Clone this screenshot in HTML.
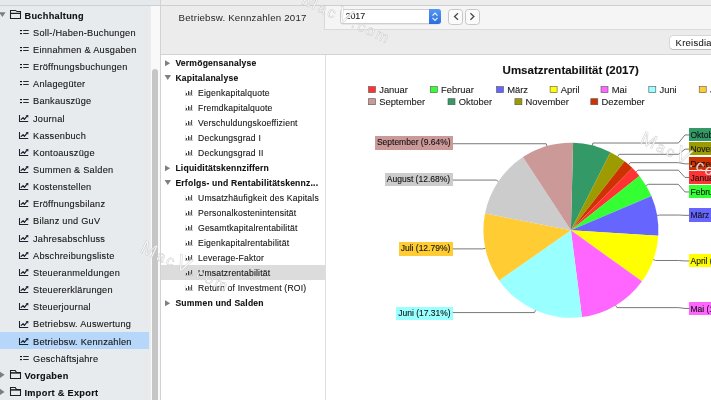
<!DOCTYPE html>
<html><head><meta charset="utf-8"><style>
*{margin:0;padding:0;box-sizing:border-box}
html,body{width:711px;height:400px;overflow:hidden;background:#fff;font-family:"Liberation Sans",sans-serif;}
.a{position:absolute}
.t{position:absolute;white-space:nowrap;line-height:normal;-webkit-text-stroke:0.1px currentColor}
svg{position:absolute;left:0;top:0}
</style></head><body><div id="root" style="position:absolute;left:0;top:0;width:711px;height:400px;will-change:transform">
<div class="a" style="left:0;top:0;width:711px;height:5px;background:#ececec"></div>
<div class="a" style="left:0;top:0;width:160px;height:5px;background:#e5e9ec"></div>
<div class="a" style="left:0;top:5px;width:711px;height:1px;background:#cfcfcf"></div>
<div class="a" style="left:0;top:6px;width:150px;height:394px;background:#e8ebee"></div>
<div class="a" style="left:150px;top:6px;width:10px;height:394px;background:#f9f9f9;border-left:1px solid #eeeeee"></div>
<div class="a" style="left:152.2px;top:69px;width:5.8px;height:340px;background:#c6c6c6;border-radius:3px"></div>
<div class="a" style="left:160px;top:0;width:1px;height:400px;background:#d2d2d2"></div>
<div class="a" style="left:161px;top:6px;width:550px;height:48px;background:#ececec"></div>
<div class="a" style="left:161px;top:54px;width:550px;height:1px;background:#d3d3d3"></div>
<div class="a" style="left:324px;top:6px;width:387px;height:24px;background:#f5f5f5;border-left:1px solid #d9d9d9;border-bottom:1px solid #dadada"></div>
<div class="a" style="left:161px;top:55px;width:165px;height:345px;background:#fff;border-right:1px solid #dedede"></div>
<div class="t" style="left:24.5px;top:10.68px;font-size:9.2px;font-weight:bold;letter-spacing:0.3px;color:#101010">Buchhaltung</div>
<div class="t" style="left:33px;top:27.83px;font-size:9.2px;letter-spacing:0.25px;color:#141414">Soll-/Haben-Buchungen</div>
<div class="t" style="left:33px;top:44.98px;font-size:9.2px;letter-spacing:0.25px;color:#141414">Einnahmen &amp; Ausgaben</div>
<div class="t" style="left:33px;top:62.13px;font-size:9.2px;letter-spacing:0.25px;color:#141414">Eröffnungsbuchungen</div>
<div class="t" style="left:33px;top:79.28px;font-size:9.2px;letter-spacing:0.25px;color:#141414">Anlagegüter</div>
<div class="t" style="left:33px;top:96.43px;font-size:9.2px;letter-spacing:0.25px;color:#141414">Bankauszüge</div>
<div class="t" style="left:33px;top:113.58px;font-size:9.2px;letter-spacing:0.25px;color:#141414">Journal</div>
<div class="t" style="left:33px;top:130.73px;font-size:9.2px;letter-spacing:0.25px;color:#141414">Kassenbuch</div>
<div class="t" style="left:33px;top:147.88px;font-size:9.2px;letter-spacing:0.25px;color:#141414">Kontoauszüge</div>
<div class="t" style="left:33px;top:165.03px;font-size:9.2px;letter-spacing:0.25px;color:#141414">Summen &amp; Salden</div>
<div class="t" style="left:33px;top:182.18px;font-size:9.2px;letter-spacing:0.25px;color:#141414">Kostenstellen</div>
<div class="t" style="left:33px;top:199.33px;font-size:9.2px;letter-spacing:0.25px;color:#141414">Eröffnungsbilanz</div>
<div class="t" style="left:33px;top:216.48px;font-size:9.2px;letter-spacing:0.25px;color:#141414">Bilanz und GuV</div>
<div class="t" style="left:33px;top:233.63px;font-size:9.2px;letter-spacing:0.25px;color:#141414">Jahresabschluss</div>
<div class="t" style="left:33px;top:250.78px;font-size:9.2px;letter-spacing:0.25px;color:#141414">Abschreibungsliste</div>
<div class="t" style="left:33px;top:267.93px;font-size:9.2px;letter-spacing:0.25px;color:#141414">Steueranmeldungen</div>
<div class="t" style="left:33px;top:285.08px;font-size:9.2px;letter-spacing:0.25px;color:#141414">Steuererklärungen</div>
<div class="t" style="left:33px;top:302.23px;font-size:9.2px;letter-spacing:0.25px;color:#141414">Steuerjournal</div>
<div class="t" style="left:33px;top:319.38px;font-size:9.2px;letter-spacing:0.25px;color:#141414">Betriebsw. Auswertung</div>
<div class="a" style="left:0;top:332.20px;width:149px;height:16.75px;background:#b6d6fa"></div>
<div class="t" style="left:33px;top:336.53px;font-size:9.2px;letter-spacing:0.25px;color:#141414">Betriebsw. Kennzahlen</div>
<div class="t" style="left:33px;top:353.68px;font-size:9.2px;letter-spacing:0.25px;color:#141414">Geschäftsjahre</div>
<div class="t" style="left:24.5px;top:370.83px;font-size:9.2px;font-weight:bold;letter-spacing:0.3px;color:#101010">Vorgaben</div>
<div class="t" style="left:24.5px;top:387.98px;font-size:9.2px;font-weight:bold;letter-spacing:0.3px;color:#101010">Import &amp; Export</div>
<div class="t" style="left:175.4px;top:58.18px;font-size:8.6px;font-weight:bold;letter-spacing:0.2px;color:#101010">Vermögensanalyse</div>
<div class="t" style="left:175.4px;top:73.18px;font-size:8.6px;font-weight:bold;letter-spacing:0.2px;color:#101010">Kapitalanalyse</div>
<div class="t" style="left:198px;top:88.18px;font-size:8.6px;letter-spacing:0.2px;color:#141414">Eigenkapitalquote</div>
<div class="t" style="left:198px;top:103.18px;font-size:8.6px;letter-spacing:0.2px;color:#141414">Fremdkapitalquote</div>
<div class="t" style="left:198px;top:118.18px;font-size:8.6px;letter-spacing:0.2px;color:#141414">Verschuldungskoeffizient</div>
<div class="t" style="left:198px;top:133.18px;font-size:8.6px;letter-spacing:0.2px;color:#141414">Deckungsgrad I</div>
<div class="t" style="left:198px;top:148.18px;font-size:8.6px;letter-spacing:0.2px;color:#141414">Deckungsgrad II</div>
<div class="t" style="left:175.4px;top:163.18px;font-size:8.6px;font-weight:bold;letter-spacing:0.2px;color:#101010">Liquiditätskennziffern</div>
<div class="t" style="left:175.4px;top:178.18px;font-size:8.6px;font-weight:bold;letter-spacing:0.2px;color:#101010">Erfolgs- und Rentabilitätskennz...</div>
<div class="t" style="left:198px;top:193.18px;font-size:8.6px;letter-spacing:0.2px;color:#141414">Umsatzhäufigkeit des Kapitals</div>
<div class="t" style="left:198px;top:208.18px;font-size:8.6px;letter-spacing:0.2px;color:#141414">Personalkostenintensität</div>
<div class="t" style="left:198px;top:223.18px;font-size:8.6px;letter-spacing:0.2px;color:#141414">Gesamtkapitalrentabilität</div>
<div class="t" style="left:198px;top:238.18px;font-size:8.6px;letter-spacing:0.2px;color:#141414">Eigenkapitalrentabilität</div>
<div class="t" style="left:198px;top:253.18px;font-size:8.6px;letter-spacing:0.2px;color:#141414">Leverage-Faktor</div>
<div class="a" style="left:161px;top:265.30px;width:164px;height:14.7px;background:#dcdcdc"></div>
<div class="t" style="left:198px;top:268.18px;font-size:8.6px;letter-spacing:0.2px;color:#141414">Umsatzrentabilität</div>
<div class="t" style="left:198px;top:283.18px;font-size:8.6px;letter-spacing:0.2px;color:#141414">Return of Investment (ROI)</div>
<div class="t" style="left:175.4px;top:298.18px;font-size:8.6px;font-weight:bold;letter-spacing:0.2px;color:#101010">Summen und Salden</div>
<div class="t" style="left:178.6px;top:11.87px;font-size:9.7px;letter-spacing:0.2px;color:#262626;-webkit-text-stroke:0">Betriebsw. Kennzahlen 2017</div>
<div class="a" style="left:340px;top:9.3px;width:101px;height:14.4px;background:#fff;border:1px solid #cfcfcf;border-radius:3px;box-shadow:0 0.5px 0.5px rgba(0,0,0,0.12)"></div>
<div class="a" style="left:429px;top:9.3px;width:12px;height:14.4px;background:linear-gradient(#5497f3,#2a6de3);border-radius:0 3px 3px 0"></div>
<div class="t" style="left:345.5px;top:11.40px;font-size:8.9px;color:#1a1a1a">2017</div>
<div class="a" style="left:448.2px;top:9.4px;width:15.2px;height:15.2px;background:#fbfbfb;border:1px solid #c6c6c6;border-radius:3.5px"></div>
<div class="a" style="left:465.1px;top:9.4px;width:15px;height:15.2px;background:#fbfbfb;border:1px solid #c6c6c6;border-radius:3.5px"></div>
<div class="a" style="left:669.7px;top:35.7px;width:60px;height:13.4px;background:#fff;border-radius:3px;box-shadow:0 0 0 0.5px rgba(0,0,0,0.18),0 1px 0.5px rgba(0,0,0,0.12)"></div>
<div class="t" style="left:675.6px;top:37.14px;font-size:9.4px;letter-spacing:0.3px;color:#1f1f1f">Kreisdiagramm</div>
<div class="t" style="left:689.2px;top:128px;width:80px;height:13.3px;background:#339966;font-size:8.5px;color:#111;padding-left:1.3px;line-height:14.5px">Oktober (7.06%)</div>
<div class="t" style="left:689.2px;top:142.2px;width:80px;height:13.3px;background:#9c9c02;font-size:8.5px;color:#111;padding-left:1.3px;line-height:14.5px">November (3.07%)</div>
<div class="t" style="left:689.2px;top:156.9px;width:80px;height:13.3px;background:#cc3300;font-size:8.5px;color:#111;padding-left:1.3px;line-height:14.5px">Dezember (1.87%)</div>
<div class="t" style="left:689.2px;top:170.5px;width:80px;height:13.3px;background:#ff3333;font-size:8.5px;color:#111;padding-left:1.3px;line-height:14.5px">Januar (1.92%)</div>
<div class="t" style="left:689.2px;top:185px;width:80px;height:13.3px;background:#33ff33;font-size:8.5px;color:#111;padding-left:1.3px;line-height:14.5px">Februar (4.28%)</div>
<div class="t" style="left:689.2px;top:208.4px;width:80px;height:13.3px;background:#6666ff;font-size:8.5px;color:#111;padding-left:1.3px;line-height:14.5px">März (7.37%)</div>
<div class="t" style="left:689.2px;top:254px;width:80px;height:13.3px;background:#ffff00;font-size:8.5px;color:#111;padding-left:1.3px;line-height:14.5px">April (8.94%)</div>
<div class="t" style="left:689.2px;top:301.5px;width:80px;height:13.3px;background:#ff66ff;font-size:8.5px;color:#111;padding-left:1.3px;line-height:14.5px">Mai (13.07%)</div>
<div class="t" style="left:396.2px;top:306.6px;width:56.60px;height:13.5px;background:#99ffff;font-size:8.5px;color:#111;padding-left:2px;line-height:13.5px">Juni (17.31%)</div>
<div class="t" style="left:398.7px;top:242.3px;width:54.10px;height:13.5px;background:#ffcc33;font-size:8.5px;color:#111;padding-left:2px;line-height:13.5px">Juli (12.79%)</div>
<div class="t" style="left:384.8px;top:172.6px;width:68.00px;height:13.5px;background:#cccccc;font-size:8.5px;color:#111;padding-left:2px;line-height:13.5px">August (12.68%)</div>
<div class="t" style="left:374.9px;top:136.1px;width:77.90px;height:13.5px;background:#cc9999;font-size:8.5px;color:#111;padding-left:2px;line-height:13.5px">September (9.64%)</div>
<div class="t" style="left:502.6px;top:63.91px;font-size:11.5px;font-weight:bold;color:#111">Umsatzrentabilität (2017)</div>
<div class="t" style="left:379.2px;top:83.74px;font-size:9.4px;color:#1a1a1a">Januar</div>
<div class="t" style="left:441.0px;top:83.74px;font-size:9.4px;color:#1a1a1a">Februar</div>
<div class="t" style="left:507.2px;top:83.74px;font-size:9.4px;color:#1a1a1a">März</div>
<div class="t" style="left:560.8000000000001px;top:83.74px;font-size:9.4px;color:#1a1a1a">April</div>
<div class="t" style="left:611.7px;top:83.74px;font-size:9.4px;color:#1a1a1a">Mai</div>
<div class="t" style="left:659.5px;top:83.74px;font-size:9.4px;color:#1a1a1a">Juni</div>
<div class="t" style="left:709.9000000000001px;top:83.74px;font-size:9.4px;color:#1a1a1a">Juli</div>
<div class="t" style="left:379.2px;top:95.84px;font-size:9.4px;color:#1a1a1a">September</div>
<div class="t" style="left:458.7px;top:95.84px;font-size:9.4px;color:#1a1a1a">Oktober</div>
<div class="t" style="left:525.6px;top:95.84px;font-size:9.4px;color:#1a1a1a">November</div>
<div class="t" style="left:601.5px;top:95.84px;font-size:9.4px;color:#1a1a1a">Dezember</div>
<svg width="711" height="400" viewBox="0 0 711 400"><path d="M-0.8 12.35H5.6L2.4 17.05Z" fill="#7d7d7d"/><path d="M10.5 18.5V10.5H15.5Q16 10.5 16.4 11L16.9 11.5H20.5V18.5Z" fill="none" stroke="#1e1e1e" stroke-width="1.05"/><path d="M10.5 13.40H20.5" stroke="#1e1e1e" stroke-width="1.25"/><rect x="20" y="30" width="2" height="1.15" fill="#111"/><rect x="20" y="33" width="2" height="1.15" fill="#111"/><path d="M23.2 30.55H28.7M23.2 33.55H28.7" stroke="#2a2a2a" stroke-width="1.05"/><rect x="20" y="47" width="2" height="1.15" fill="#111"/><rect x="20" y="50" width="2" height="1.15" fill="#111"/><path d="M23.2 47.55H28.7M23.2 50.55H28.7" stroke="#2a2a2a" stroke-width="1.05"/><rect x="20" y="64" width="2" height="1.15" fill="#111"/><rect x="20" y="67" width="2" height="1.15" fill="#111"/><path d="M23.2 64.55H28.7M23.2 67.55H28.7" stroke="#2a2a2a" stroke-width="1.05"/><rect x="20" y="81" width="2" height="1.15" fill="#111"/><rect x="20" y="84" width="2" height="1.15" fill="#111"/><path d="M23.2 81.55H28.7M23.2 84.55H28.7" stroke="#2a2a2a" stroke-width="1.05"/><rect x="20" y="99" width="2" height="1.15" fill="#111"/><rect x="20" y="102" width="2" height="1.15" fill="#111"/><path d="M23.2 99.55H28.7M23.2 102.55H28.7" stroke="#2a2a2a" stroke-width="1.05"/><path d="M19.5 115V121.5H28.2" fill="none" stroke="#1b222c" stroke-width="1.05"/><path d="M21.2 119.40L23.1 117.70L24.4 119.40L26.6 116.60" fill="none" stroke="#1b222c" stroke-width="1.2" stroke-linejoin="round" stroke-linecap="round"/><path d="M25.6 115.30L28.4 115.00L28.2 117.70Z" fill="#1b222c"/><path d="M19.5 132V138.5H28.2" fill="none" stroke="#1b222c" stroke-width="1.05"/><path d="M21.2 136.40L23.1 134.70L24.4 136.40L26.6 133.60" fill="none" stroke="#1b222c" stroke-width="1.2" stroke-linejoin="round" stroke-linecap="round"/><path d="M25.6 132.30L28.4 132.00L28.2 134.70Z" fill="#1b222c"/><path d="M19.5 149V155.5H28.2" fill="none" stroke="#1b222c" stroke-width="1.05"/><path d="M21.2 153.40L23.1 151.70L24.4 153.40L26.6 150.60" fill="none" stroke="#1b222c" stroke-width="1.2" stroke-linejoin="round" stroke-linecap="round"/><path d="M25.6 149.30L28.4 149.00L28.2 151.70Z" fill="#1b222c"/><path d="M19.5 166V172.5H28.2" fill="none" stroke="#1b222c" stroke-width="1.05"/><path d="M21.2 170.40L23.1 168.70L24.4 170.40L26.6 167.60" fill="none" stroke="#1b222c" stroke-width="1.2" stroke-linejoin="round" stroke-linecap="round"/><path d="M25.6 166.30L28.4 166.00L28.2 168.70Z" fill="#1b222c"/><path d="M19.5 183V189.5H28.2" fill="none" stroke="#1b222c" stroke-width="1.05"/><path d="M21.2 187.40L23.1 185.70L24.4 187.40L26.6 184.60" fill="none" stroke="#1b222c" stroke-width="1.2" stroke-linejoin="round" stroke-linecap="round"/><path d="M25.6 183.30L28.4 183.00L28.2 185.70Z" fill="#1b222c"/><path d="M19.5 200V206.5H28.2" fill="none" stroke="#1b222c" stroke-width="1.05"/><path d="M21.2 204.40L23.1 202.70L24.4 204.40L26.6 201.60" fill="none" stroke="#1b222c" stroke-width="1.2" stroke-linejoin="round" stroke-linecap="round"/><path d="M25.6 200.30L28.4 200.00L28.2 202.70Z" fill="#1b222c"/><path d="M19.5 218V224.5H28.2" fill="none" stroke="#1b222c" stroke-width="1.05"/><path d="M21.2 222.40L23.1 220.70L24.4 222.40L26.6 219.60" fill="none" stroke="#1b222c" stroke-width="1.2" stroke-linejoin="round" stroke-linecap="round"/><path d="M25.6 218.30L28.4 218.00L28.2 220.70Z" fill="#1b222c"/><path d="M19.5 235V241.5H28.2" fill="none" stroke="#1b222c" stroke-width="1.05"/><path d="M21.2 239.40L23.1 237.70L24.4 239.40L26.6 236.60" fill="none" stroke="#1b222c" stroke-width="1.2" stroke-linejoin="round" stroke-linecap="round"/><path d="M25.6 235.30L28.4 235.00L28.2 237.70Z" fill="#1b222c"/><path d="M19.5 252V258.5H28.2" fill="none" stroke="#1b222c" stroke-width="1.05"/><path d="M21.2 256.40L23.1 254.70L24.4 256.40L26.6 253.60" fill="none" stroke="#1b222c" stroke-width="1.2" stroke-linejoin="round" stroke-linecap="round"/><path d="M25.6 252.30L28.4 252.00L28.2 254.70Z" fill="#1b222c"/><path d="M19.5 269V275.5H28.2" fill="none" stroke="#1b222c" stroke-width="1.05"/><path d="M21.2 273.40L23.1 271.70L24.4 273.40L26.6 270.60" fill="none" stroke="#1b222c" stroke-width="1.2" stroke-linejoin="round" stroke-linecap="round"/><path d="M25.6 269.30L28.4 269.00L28.2 271.70Z" fill="#1b222c"/><path d="M19.5 286V292.5H28.2" fill="none" stroke="#1b222c" stroke-width="1.05"/><path d="M21.2 290.40L23.1 288.70L24.4 290.40L26.6 287.60" fill="none" stroke="#1b222c" stroke-width="1.2" stroke-linejoin="round" stroke-linecap="round"/><path d="M25.6 286.30L28.4 286.00L28.2 288.70Z" fill="#1b222c"/><path d="M19.5 303V309.5H28.2" fill="none" stroke="#1b222c" stroke-width="1.05"/><path d="M21.2 307.40L23.1 305.70L24.4 307.40L26.6 304.60" fill="none" stroke="#1b222c" stroke-width="1.2" stroke-linejoin="round" stroke-linecap="round"/><path d="M25.6 303.30L28.4 303.00L28.2 305.70Z" fill="#1b222c"/><path d="M19.5 321V327.5H28.2" fill="none" stroke="#1b222c" stroke-width="1.05"/><path d="M21.2 325.40L23.1 323.70L24.4 325.40L26.6 322.60" fill="none" stroke="#1b222c" stroke-width="1.2" stroke-linejoin="round" stroke-linecap="round"/><path d="M25.6 321.30L28.4 321.00L28.2 323.70Z" fill="#1b222c"/><path d="M19.5 338V344.5H28.2" fill="none" stroke="#1b222c" stroke-width="1.05"/><path d="M21.2 342.40L23.1 340.70L24.4 342.40L26.6 339.60" fill="none" stroke="#1b222c" stroke-width="1.2" stroke-linejoin="round" stroke-linecap="round"/><path d="M25.6 338.30L28.4 338.00L28.2 340.70Z" fill="#1b222c"/><rect x="20" y="356" width="2" height="1.15" fill="#111"/><rect x="20" y="359" width="2" height="1.15" fill="#111"/><path d="M23.2 356.55H28.7M23.2 359.55H28.7" stroke="#2a2a2a" stroke-width="1.05"/><path d="M0 371.70V377.90L4.6 374.80Z" fill="#7d7d7d"/><path d="M10.5 378.5V370.5H15.2L16.4 372.4H20.5V378.5Z" fill="none" stroke="#1e1e1e" stroke-width="1.05"/><path d="M10.5 372.90H20.5" stroke="#1e1e1e" stroke-width="1.5"/><path d="M0 388.85V395.05L4.6 391.95Z" fill="#7d7d7d"/><path d="M10.5 395.5V387.5H15.2L16.4 389.4H20.5V395.5Z" fill="none" stroke="#1e1e1e" stroke-width="1.05"/><path d="M10.5 389.90H20.5" stroke="#1e1e1e" stroke-width="1.5"/><path d="M165 60.30V66.20L170.2 63.25Z" fill="#7f7f7f"/><path d="M164.6 75.10H171L167.8 80.10Z" fill="#7f7f7f"/><rect x="185" y="90" width="0.7" height="5" fill="#dcdcdc"/><rect x="189.1" y="92" width="1.9" height="3" fill="#b4b4b4"/><rect x="185.9" y="93" width="1.1" height="2" fill="#3c3c3c"/><rect x="188" y="91" width="1.1" height="4" fill="#3c3c3c"/><rect x="191" y="90" width="1.1" height="5" fill="#555"/><rect x="185" y="95" width="8" height="0.9" fill="#bdbdbd"/><rect x="185" y="105" width="0.7" height="5" fill="#dcdcdc"/><rect x="189.1" y="107" width="1.9" height="3" fill="#b4b4b4"/><rect x="185.9" y="108" width="1.1" height="2" fill="#3c3c3c"/><rect x="188" y="106" width="1.1" height="4" fill="#3c3c3c"/><rect x="191" y="105" width="1.1" height="5" fill="#555"/><rect x="185" y="110" width="8" height="0.9" fill="#bdbdbd"/><rect x="185" y="120" width="0.7" height="5" fill="#dcdcdc"/><rect x="189.1" y="122" width="1.9" height="3" fill="#b4b4b4"/><rect x="185.9" y="123" width="1.1" height="2" fill="#3c3c3c"/><rect x="188" y="121" width="1.1" height="4" fill="#3c3c3c"/><rect x="191" y="120" width="1.1" height="5" fill="#555"/><rect x="185" y="125" width="8" height="0.9" fill="#bdbdbd"/><rect x="185" y="135" width="0.7" height="5" fill="#dcdcdc"/><rect x="189.1" y="137" width="1.9" height="3" fill="#b4b4b4"/><rect x="185.9" y="138" width="1.1" height="2" fill="#3c3c3c"/><rect x="188" y="136" width="1.1" height="4" fill="#3c3c3c"/><rect x="191" y="135" width="1.1" height="5" fill="#555"/><rect x="185" y="140" width="8" height="0.9" fill="#bdbdbd"/><rect x="185" y="150" width="0.7" height="5" fill="#dcdcdc"/><rect x="189.1" y="152" width="1.9" height="3" fill="#b4b4b4"/><rect x="185.9" y="153" width="1.1" height="2" fill="#3c3c3c"/><rect x="188" y="151" width="1.1" height="4" fill="#3c3c3c"/><rect x="191" y="150" width="1.1" height="5" fill="#555"/><rect x="185" y="155" width="8" height="0.9" fill="#bdbdbd"/><path d="M165 165.30V171.20L170.2 168.25Z" fill="#7f7f7f"/><path d="M164.6 180.10H171L167.8 185.10Z" fill="#7f7f7f"/><rect x="185" y="195" width="0.7" height="5" fill="#dcdcdc"/><rect x="189.1" y="197" width="1.9" height="3" fill="#b4b4b4"/><rect x="185.9" y="198" width="1.1" height="2" fill="#3c3c3c"/><rect x="188" y="196" width="1.1" height="4" fill="#3c3c3c"/><rect x="191" y="195" width="1.1" height="5" fill="#555"/><rect x="185" y="200" width="8" height="0.9" fill="#bdbdbd"/><rect x="185" y="210" width="0.7" height="5" fill="#dcdcdc"/><rect x="189.1" y="212" width="1.9" height="3" fill="#b4b4b4"/><rect x="185.9" y="213" width="1.1" height="2" fill="#3c3c3c"/><rect x="188" y="211" width="1.1" height="4" fill="#3c3c3c"/><rect x="191" y="210" width="1.1" height="5" fill="#555"/><rect x="185" y="215" width="8" height="0.9" fill="#bdbdbd"/><rect x="185" y="225" width="0.7" height="5" fill="#dcdcdc"/><rect x="189.1" y="227" width="1.9" height="3" fill="#b4b4b4"/><rect x="185.9" y="228" width="1.1" height="2" fill="#3c3c3c"/><rect x="188" y="226" width="1.1" height="4" fill="#3c3c3c"/><rect x="191" y="225" width="1.1" height="5" fill="#555"/><rect x="185" y="230" width="8" height="0.9" fill="#bdbdbd"/><rect x="185" y="240" width="0.7" height="5" fill="#dcdcdc"/><rect x="189.1" y="242" width="1.9" height="3" fill="#b4b4b4"/><rect x="185.9" y="243" width="1.1" height="2" fill="#3c3c3c"/><rect x="188" y="241" width="1.1" height="4" fill="#3c3c3c"/><rect x="191" y="240" width="1.1" height="5" fill="#555"/><rect x="185" y="245" width="8" height="0.9" fill="#bdbdbd"/><rect x="185" y="255" width="0.7" height="5" fill="#dcdcdc"/><rect x="189.1" y="257" width="1.9" height="3" fill="#b4b4b4"/><rect x="185.9" y="258" width="1.1" height="2" fill="#3c3c3c"/><rect x="188" y="256" width="1.1" height="4" fill="#3c3c3c"/><rect x="191" y="255" width="1.1" height="5" fill="#555"/><rect x="185" y="260" width="8" height="0.9" fill="#bdbdbd"/><rect x="185" y="270" width="0.7" height="5" fill="#dcdcdc"/><rect x="189.1" y="272" width="1.9" height="3" fill="#b4b4b4"/><rect x="185.9" y="273" width="1.1" height="2" fill="#3c3c3c"/><rect x="188" y="271" width="1.1" height="4" fill="#3c3c3c"/><rect x="191" y="270" width="1.1" height="5" fill="#555"/><rect x="185" y="275" width="8" height="0.9" fill="#bdbdbd"/><rect x="185" y="285" width="0.7" height="5" fill="#dcdcdc"/><rect x="189.1" y="287" width="1.9" height="3" fill="#b4b4b4"/><rect x="185.9" y="288" width="1.1" height="2" fill="#3c3c3c"/><rect x="188" y="286" width="1.1" height="4" fill="#3c3c3c"/><rect x="191" y="285" width="1.1" height="5" fill="#555"/><rect x="185" y="290" width="8" height="0.9" fill="#bdbdbd"/><path d="M165 300.30V306.20L170.2 303.25Z" fill="#7f7f7f"/><path d="M432.5 15.6L435 13.1L437.5 15.6M432.5 17.9L435 20.4L437.5 17.9" fill="none" stroke="#fff" stroke-opacity="0.92" stroke-width="1.15"/><path d="M458 13.3L454.5 16.5L458 19.8M470.4 13.3L473.9 16.5L470.4 19.8" fill="none" stroke="#4a4a4a" stroke-width="1.3"/><path d="M570.9 230.3L573.11 142.83A87.5 87.5 0 0 1 610.45 152.25Z" fill="#339966"/><path d="M570.9 230.3L610.45 152.25A87.5 87.5 0 0 1 624.67 161.27Z" fill="#9c9c02"/><path d="M570.9 230.3L624.67 161.27A87.5 87.5 0 0 1 632.39 168.05Z" fill="#cc3300"/><path d="M570.9 230.3L632.39 168.05A87.5 87.5 0 0 1 639.44 175.90Z" fill="#ff3333"/><path d="M570.9 230.3L639.44 175.90A87.5 87.5 0 0 1 651.43 196.07Z" fill="#33ff33"/><path d="M570.9 230.3L651.43 196.07A87.5 87.5 0 0 1 658.24 235.64Z" fill="#6666ff"/><path d="M570.9 230.3L658.24 235.64A87.5 87.5 0 0 1 641.96 281.36Z" fill="#ffff00"/><path d="M570.9 230.3L641.96 281.36A87.5 87.5 0 0 1 581.96 317.10Z" fill="#ff66ff"/><path d="M570.9 230.3L581.96 317.10A87.5 87.5 0 0 1 499.17 280.41Z" fill="#99ffff"/><path d="M570.9 230.3L499.17 280.41A87.5 87.5 0 0 1 485.04 213.45Z" fill="#ffcc33"/><path d="M570.9 230.3L485.04 213.45A87.5 87.5 0 0 1 522.92 157.12Z" fill="#cccccc"/><path d="M570.9 230.3L522.92 157.12A87.5 87.5 0 0 1 573.11 142.83Z" fill="#cc9999"/><path d="M592.31 145.46L592.92 143.03L678.4 143.03L685 134.95L689.2 134.95" fill="none" stroke="#6a6a6a" stroke-width="0.9"/><path d="M617.78 156.42L619.12 154.31L678.4 154.31L685 149.15L689.2 149.15" fill="none" stroke="#6a6a6a" stroke-width="0.9"/><path d="M628.63 164.55L630.28 162.67L678.4 162.67L685 163.85L689.2 163.85" fill="none" stroke="#6a6a6a" stroke-width="0.9"/><path d="M636.03 171.87L637.89 170.20L678.4 170.20L685 177.45L689.2 177.45" fill="none" stroke="#6a6a6a" stroke-width="0.9"/><path d="M646.11 185.58L648.26 184.30L678.4 184.30L685 191.95L689.2 191.95" fill="none" stroke="#6a6a6a" stroke-width="0.9"/><path d="M657.13 215.46L659.60 215.04L678.4 215.04L685 215.35L689.2 215.35" fill="none" stroke="#6a6a6a" stroke-width="0.9"/><path d="M653.33 259.65L655.69 260.49L678.4 260.49L685 260.95L689.2 260.95" fill="none" stroke="#6a6a6a" stroke-width="0.9"/><path d="M615.68 305.47L616.96 307.62L678.4 307.62L685 308.45L689.2 308.45" fill="none" stroke="#6a6a6a" stroke-width="0.9"/><path d="M535.45 310.30L534.44 312.58L452.8 312.58" fill="none" stroke="#6a6a6a" stroke-width="0.9"/><path d="M485.29 248.37L482.84 248.89L452.8 248.89" fill="none" stroke="#6a6a6a" stroke-width="0.9"/><path d="M498.30 181.47L496.22 180.07L452.8 180.07" fill="none" stroke="#6a6a6a" stroke-width="0.9"/><path d="M546.93 146.15L546.24 143.74L452.8 143.74" fill="none" stroke="#6a6a6a" stroke-width="0.9"/><rect x="368.5" y="86.60" width="7" height="6" fill="#ff3333" stroke="#555" stroke-width="0.6"/><rect x="430.3" y="86.60" width="7" height="6" fill="#33ff33" stroke="#555" stroke-width="0.6"/><rect x="496.5" y="86.60" width="7" height="6" fill="#6666ff" stroke="#555" stroke-width="0.6"/><rect x="550.1" y="86.60" width="7" height="6" fill="#ffff00" stroke="#555" stroke-width="0.6"/><rect x="601.0" y="86.60" width="7" height="6" fill="#ff66ff" stroke="#555" stroke-width="0.6"/><rect x="648.8" y="86.60" width="7" height="6" fill="#99ffff" stroke="#555" stroke-width="0.6"/><rect x="699.2" y="86.60" width="7" height="6" fill="#ffcc33" stroke="#555" stroke-width="0.6"/><rect x="368.5" y="98.70" width="7" height="6" fill="#cc9999" stroke="#555" stroke-width="0.6"/><rect x="448.0" y="98.70" width="7" height="6" fill="#339966" stroke="#555" stroke-width="0.6"/><rect x="514.9" y="98.70" width="7" height="6" fill="#9c9c02" stroke="#555" stroke-width="0.6"/><rect x="590.8" y="98.70" width="7" height="6" fill="#cc3300" stroke="#555" stroke-width="0.6"/></svg>
<svg width="711" height="400" viewBox="0 0 711 400"><text x="300.4" y="3.45" transform="rotate(25 300.4 3.45)" font-family="Liberation Sans" font-size="15" letter-spacing="2.2" fill="#ffffff" fill-opacity="0.85" stroke="#b4b4b4" stroke-opacity="0.65" stroke-width="0.5"><tspan font-size="19">M</tspan>ac<tspan font-size="22">V</tspan>.com</text><text x="639.0" y="142.65" transform="rotate(25 639.0 142.65)" font-family="Liberation Sans" font-size="15" letter-spacing="2.2" fill="#ffffff" fill-opacity="0.85" stroke="#b4b4b4" stroke-opacity="0.65" stroke-width="0.5"><tspan font-size="19">M</tspan>ac<tspan font-size="22">V</tspan>.com</text><text x="139.2" y="251.65" transform="rotate(25 139.2 251.65)" font-family="Liberation Sans" font-size="15" letter-spacing="2.2" fill="#ffffff" fill-opacity="0.85" stroke="#b4b4b4" stroke-opacity="0.65" stroke-width="0.5"><tspan font-size="19">M</tspan>ac<tspan font-size="22">V</tspan>.com</text></svg>
</div></body></html>
